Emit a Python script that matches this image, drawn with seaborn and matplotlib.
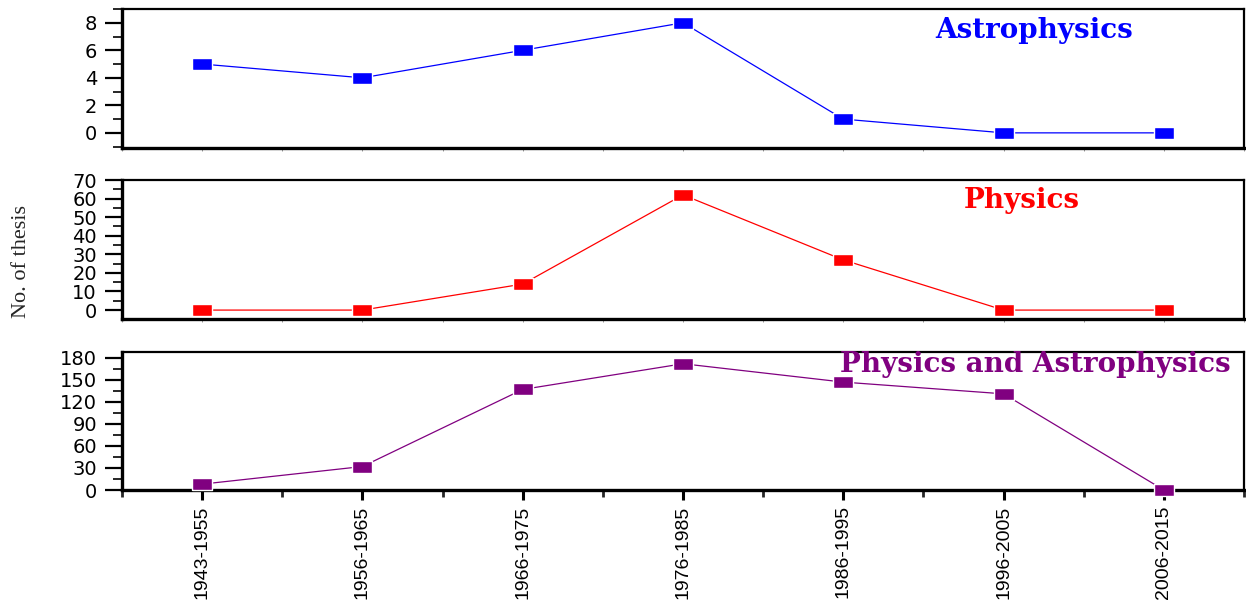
import numpy as np
import pandas as pd
import matplotlib
matplotlib.use("Agg")
import matplotlib.pyplot as plt
from matplotlib.ticker import MultipleLocator
import seaborn as sns

# Decades of thesis submission
periods = ["1943-1955", "1956-1965", "1966-1975", "1976-1985",
           "1986-1995", "1996-2005", "2006-2015"]

# Number of theses per period
astrophysics = [5, 4, 6, 8, 1, 0, 0]
physics = [0, 0, 14, 62, 27, 0, 0]
physics_and_astro = [8, 32, 137, 172, 147, 131, 0]

panel_titles = ["Astrophysics", "Physics", "Physics and Astrophysics"]
panel_colors = ["#0000ff", "#ff0000", "#800080"]

sns.set_theme(style="white")
plt.rcParams["font.family"] = ["DejaVu Sans"]

fig = plt.figure(figsize=(12.46, 6.09), dpi=100)
W, H = 1246, 609
left, right = 122 / W, 1244 / W
panel_px = [(9, 148), (180, 319), (352, 490)]
axes = []
for top, bot in panel_px:
    ax = fig.add_axes([left, 1 - bot / H, right - left, (bot - top) / H])
    axes.append(ax)

series = [astrophysics, physics, physics_and_astro]
ylims = [(-1.1, 9.0), (-4.8, 70.0), (0, 188)]
ymajor = [2, 10, 30]
yminor = [1, 5, 15]
title_pos = [(1034, 31), (1022, 201), (1035, 364)]

# Wide rectangular marker
rect = [(-1, -0.62), (1, -0.62), (1, 0.62), (-1, 0.62), (-1, -0.62)]

xpos = np.arange(len(periods))
for i, ax in enumerate(axes):
    df = pd.DataFrame({"x": xpos, "y": series[i]})
    sns.lineplot(data=df, x="x", y="y", ax=ax, color=panel_colors[i],
                 linewidth=0.9, marker=rect, markersize=15,
                 markerfacecolor=panel_colors[i], markeredgecolor="white",
                 markeredgewidth=1.0, clip_on=False, zorder=3)
    ax.set_xlim(-0.5, len(periods) - 0.5)
    ax.set_ylim(*ylims[i])
    ax.set_xlabel("")
    ax.set_ylabel("")
    ax.yaxis.set_minor_locator(MultipleLocator(yminor[i]))
    ax.set_yticks(list(np.arange(0, ylims[i][1] + 0.01, ymajor[i])))
    ax.tick_params(axis="y", which="major", direction="out", length=12,
                   width=1.6, labelsize=14, pad=6, left=True, colors="black")
    ax.tick_params(axis="y", which="minor", direction="out", length=6.5,
                   width=1.4, left=True)
    ax.xaxis.set_minor_locator(MultipleLocator(0.5))
    for s in ["left", "bottom"]:
        ax.spines[s].set_linewidth(2.4)
        ax.spines[s].set_color("black")
    for s in ["top", "right"]:
        ax.spines[s].set_linewidth(1.6)
        ax.spines[s].set_color("black")
    ax.set_xticks(xpos)
    if i < 2:
        ax.tick_params(axis="x", which="both", bottom=True, length=2,
                       width=0.6, labelbottom=False, colors="#888888")
    else:
        ax.set_xticklabels(periods, rotation=90, fontsize=14,
                           family=["Liberation Sans", "DejaVu Sans"])
        ax.tick_params(axis="x", which="major", bottom=True, direction="out",
                       length=7, width=2.2, pad=4, colors="black")
        ax.tick_params(axis="x", which="minor", bottom=True, direction="out",
                       length=5, width=2.0)
    ax.text(title_pos[i][0] / W, 1 - title_pos[i][1] / H, panel_titles[i],
            transform=fig.transFigure, ha="center", va="center",
            fontsize=20, fontweight="bold", color=panel_colors[i],
            family=["DejaVu Serif"])

fig.text(22 / W, 1 - 262 / H, "No. of thesis", rotation=90, ha="center",
         va="center", fontsize=16, family=["Liberation Serif", "DejaVu Serif"])

fig.savefig("out.png", dpi=100, facecolor="white")
